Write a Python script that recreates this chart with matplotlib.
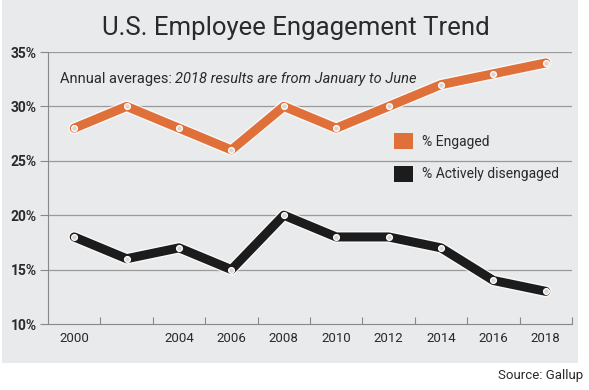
import matplotlib
matplotlib.use('Agg')
import matplotlib.pyplot as plt
import matplotlib.patheffects as pe
from matplotlib.patches import Rectangle, Patch

# data
years = [2000, 2002, 2004, 2006, 2008, 2010, 2012, 2014, 2016, 2018]
engaged = [28, 30, 28, 26, 30, 28, 30, 32, 33, 34]
disengaged = [18, 16, 17, 15, 20, 18, 18, 17, 14, 13]
year_labels = [2000, 2004, 2006, 2008, 2010, 2012, 2014, 2016, 2018]
y_ticks = [10, 15, 20, 25, 30, 35]
series_names = ['% Engaged', '% Actively disengaged']

ORANGE = '#e0703a'
BLACK = '#1c1c1c'
PANEL = '#e9eaec'
TEXT = '#2a2a2a'

plt.rcParams['font.family'] = ['Roboto', 'DejaVu Sans']

fig = plt.figure(figsize=(5.89, 3.90), dpi=100)
fig.patch.set_facecolor('white')
# grey panel behind everything except the source line
fig.patches.append(Rectangle((2/589, 27/390), 576/589, 363/390,
                             transform=fig.transFigure, facecolor=PANEL,
                             edgecolor='none', zorder=-10))

ax = fig.add_axes([48/589, 66/390, 524/589, 272/390])
ax.set_facecolor('none')
ax.set_zorder(5)

halo = [pe.Stroke(linewidth=8.5, foreground='white', alpha=0.7), pe.Normal()]
for vals, col in [(engaged, ORANGE), (disengaged, BLACK)]:
    ax.plot(years, vals, color=col, lw=6.5, solid_capstyle='round',
            solid_joinstyle='round', path_effects=halo, zorder=3)
    ax.plot(years, vals, 'o', ms=4.2, mfc='#dcd6d2', mec='white', mew=0.9,
            zorder=4)

ax.set_xlim(1999, 2019)
ax.set_ylim(10, 35)

# axes styling
for s in ['top', 'right']:
    ax.spines[s].set_visible(False)
ax.spines['left'].set_color('#888888')
ax.spines['bottom'].set_color('#888888')
ax.spines['left'].set_linewidth(0.8)
ax.spines['bottom'].set_linewidth(0.8)

ax.set_yticks(y_ticks)
ax.set_yticklabels([f'{v}%' for v in y_ticks], fontsize=10,
                   fontweight='bold', color=TEXT)
ax.tick_params(axis='y', length=6, width=0.8, color='#888888', pad=2)
for v in y_ticks[1:]:
    ax.axhline(v, color='#9a9a9a', lw=0.9, zorder=1)

ax.set_xticks(year_labels)
ax.set_xticklabels([str(y) for y in year_labels], fontsize=9.5, color=TEXT)
ax.set_xticks(range(2001, 2020, 2), minor=True)
ax.tick_params(axis='x', which='major', length=0, pad=6)
ax.tick_params(axis='x', which='minor', direction='in', length=5,
               width=0.8, color='#888888')

# title and notes
fig.text(0.503, 0.927, 'U.S. Employee Engagement Trend', ha='center',
         va='center', fontsize=18.5, color=TEXT)
t1 = ax.text(0.022, 0.9, 'Annual averages: ', transform=ax.transAxes,
             fontsize=10.5, color=TEXT, va='center')
fig.canvas.draw()
bb = t1.get_window_extent().transformed(ax.transAxes.inverted())
ax.text(bb.x1, 0.9, '2018 results are from January to June',
        transform=ax.transAxes, fontsize=10.5, style='italic', color=TEXT,
        va='center')

handles = [Patch(facecolor=ORANGE, edgecolor='none'),
           Patch(facecolor=BLACK, edgecolor='none')]
ax.legend(handles, series_names, loc='upper left',
          bbox_to_anchor=(0.636, 0.748), frameon=False, fontsize=10,
          handlelength=1.4, handleheight=1.4, handletextpad=0.6,
          labelspacing=1.2, labelcolor=TEXT)

fig.text(583/589, 1 - 375/390, 'Source: Gallup', ha='right', va='center',
         fontsize=9.5, color=TEXT)

fig.savefig('out.png', dpi=100, facecolor='white')
